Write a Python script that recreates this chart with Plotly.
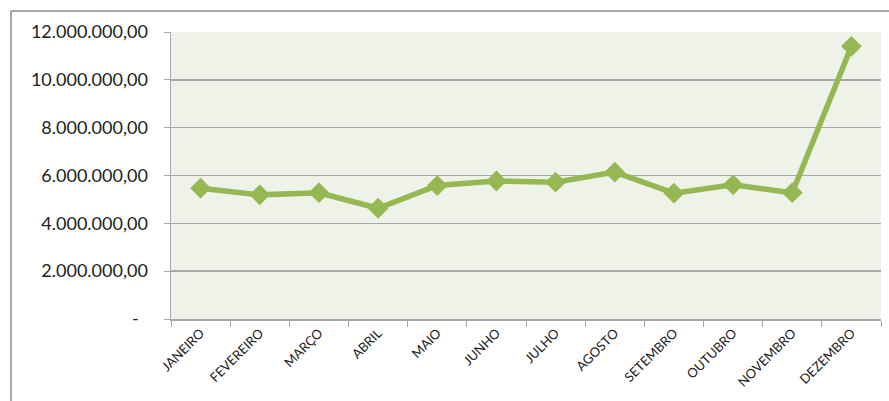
import plotly.graph_objects as go

months = ["JANEIRO", "FEVEREIRO", "MARÇO", "ABRIL", "MAIO", "JUNHO", "JULHO",
          "AGOSTO", "SETEMBRO", "OUTUBRO", "NOVEMBRO", "DEZEMBRO"]
values = [5470000, 5190000, 5280000, 4630000, 5580000, 5770000, 5720000,
          6140000, 5260000, 5610000, 5280000, 11400000]
y_ticks = [0, 2000000, 4000000, 6000000, 8000000, 10000000, 12000000]
y_tick_labels = ["-\u00a0\u00a0", "2.000.000,00", "4.000.000,00", "6.000.000,00",
                 "8.000.000,00", "10.000.000,00", "12.000.000,00"]

LINE = "#95B853"
GRID = "#A8A8A8"

fig = go.Figure()
fig.add_trace(go.Scatter(
    x=months, y=values, mode="lines+markers",
    line=dict(color=LINE, width=5.5),
    marker=dict(symbol="diamond", size=16, color=LINE),
    showlegend=False, hoverinfo="skip",
))

fig.update_layout(
    width=889, height=401,
    margin=dict(l=171, r=8, t=32, b=82),
    paper_bgcolor="white",
    plot_bgcolor="#EFF2E9",
    font=dict(family="Lato, Open Sans, sans-serif", color="#222222"),
    xaxis=dict(
        type="category", tickson="boundaries", ticks="outside", ticklen=6,
        tickcolor=GRID, showline=True, linecolor=GRID, linewidth=1.5,
        showgrid=False, tickangle=-45, tickfont=dict(size=13),
        range=[-0.5, 11.5], fixedrange=True, automargin=False,
    ),
    yaxis=dict(
        range=[0, 12000000], tickvals=y_ticks, ticktext=y_tick_labels,
        ticks="outside", ticklen=6, tickcolor=GRID,
        showline=True, linecolor=GRID, linewidth=1.5,
        showgrid=True, gridcolor=GRID, gridwidth=1.5,
        zeroline=False, tickfont=dict(size=18), ticklabelstandoff=12,
        fixedrange=True, automargin=False,
    ),
    shapes=[
        dict(type="line", xref="paper", yref="paper",
             x0=(11 - 171) / 710, x1=(889 - 171) / 710,
             y0=(401 - 11 - 82) / 287, y1=(401 - 11 - 82) / 287,
             line=dict(color="#8C8C8C", width=1.5)),
        dict(type="line", xref="paper", yref="paper",
             x0=(11 - 171) / 710, x1=(11 - 171) / 710,
             y0=(401 - 11 - 82) / 287, y1=-82 / 287,
             line=dict(color="#8C8C8C", width=1.5)),
    ],
)

fig.write_html(
    "out.html",
    config={"displayModeBar": False, "staticPlot": True},
    post_script="document.body.style.margin='0';document.body.style.overflow='hidden';",
)
